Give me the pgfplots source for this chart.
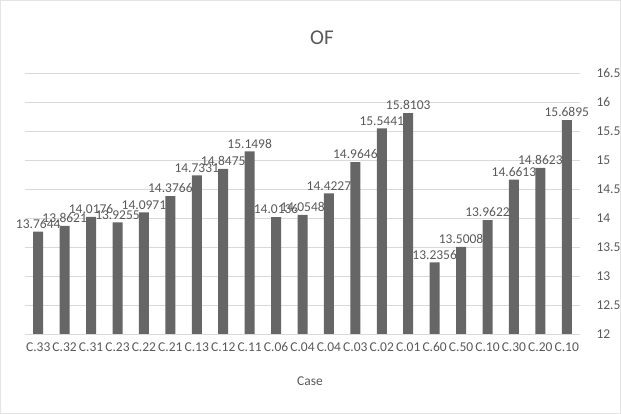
\documentclass[border=0pt]{standalone}
\usepackage{pgfplots}
\pgfplotsset{compat=1.18}
\usepackage{fontspec}
\setmainfont{Carlito}
\definecolor{bargray}{HTML}{666666}
\definecolor{txtgray}{HTML}{595959}
\definecolor{gridgray}{HTML}{D9D9D9}
\begin{document}
\begin{tikzpicture}[x=1pt,y=1pt]
\path[use as bounding box] (0,0) rectangle (621,414);
\draw[gridgray!70, line width=0.6pt] (0.5,0.5) rectangle (620.5,413.5);
\begin{axis}[
  at={(25pt,80pt)}, anchor=south west,
  scale only axis, width=555pt, height=261pt,
  ybar, bar width=10pt,
  xmin=-0.5, xmax=20.5, ymin=12, ymax=16.5,
  ytick={12,12.5,...,16.5},
  yticklabel pos=right,
  ymajorgrids, grid style={gridgray, line width=0.6pt},
  axis line style={draw=none},
  major tick length=0pt,
  xtick=data,
  xticklabels={C.33,C.32,C.31,C.23,C.22,C.21,C.13,C.12,C.11,C.06,C.04,C.04,C.03,C.02,C.01,C.60,C.50,C.10,C.30,C.20,C.10},
  ticklabel style={font=\fontsize{13.5}{15}\selectfont, text=txtgray},
  yticklabel style={anchor=west, xshift=13pt},
  xticklabel style={yshift=-5pt},
  /pgf/number format/assume math mode=true,
  yticklabel={\pgfmathprintnumber[assume math mode=true]{\tick}},
  nodes near coords={\pgfmathprintnumber[fixed,precision=4,zerofill,assume math mode=true]{\pgfplotspointmeta}},
  every node near coord/.append style={font=\fontsize{13.5}{15}\selectfont, text=txtgray, anchor=south, inner sep=1pt, yshift=2pt},
  clip=false,
]
\addplot[fill=bargray, draw=none] coordinates {
(0,13.7644) (1,13.8621) (2,14.0176) (3,13.9255) (4,14.0971) (5,14.3766) (6,14.7331)
(7,14.8475) (8,15.1498) (9,14.0136) (10,14.0548) (11,14.4227) (12,14.9646) (13,15.5441)
(14,15.8103) (15,13.2356) (16,13.5008) (17,13.9622) (18,14.6613) (19,14.8623) (20,15.6895)
};
\end{axis}
\node[text=txtgray, font=\fontsize{21}{24}\selectfont] at (322,376) {OF};
\node[text=txtgray, font=\fontsize{13.5}{15}\selectfont] at (310,33) {Case};
\end{tikzpicture}
\end{document}
